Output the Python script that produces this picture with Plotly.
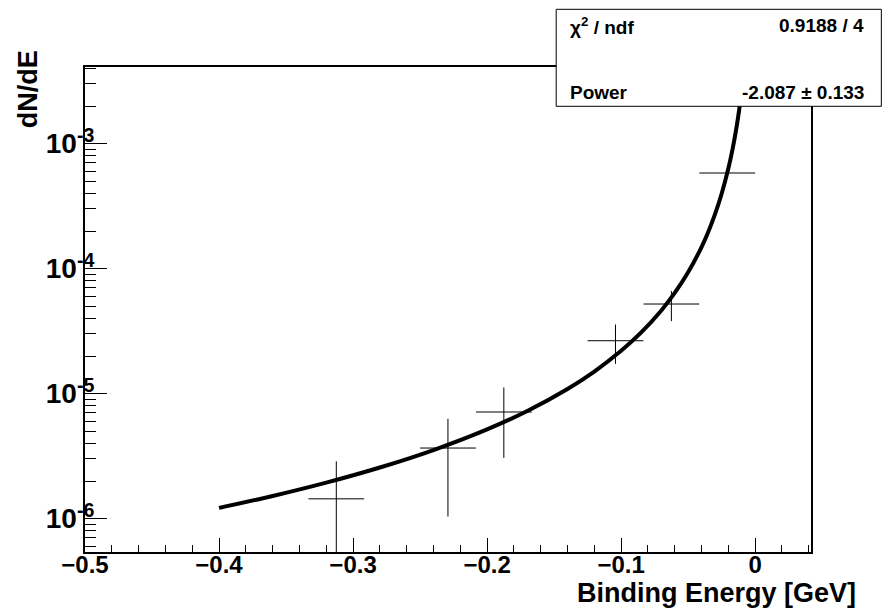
import plotly.graph_objects as go

# ---- data ----
bin_centers = [-0.3125, -0.2292, -0.1875, -0.1042, -0.0625, -0.0208]
bin_half_width = [0.0208, 0.0208, 0.0208, 0.0208, 0.0208, 0.0208]
counts = [1.44e-6, 3.67e-6, 7.13e-6, 2.65e-5, 5.21e-5, 5.82e-4]
count_err = [1.43e-6, 2.63e-6, 4.07e-6, 0.92e-5, 1.41e-5, 0.0]

fit_x = [-0.40, -0.36, -0.32, -0.28, -0.24, -0.20, -0.17, -0.14, -0.12, -0.10,
         -0.085, -0.07, -0.06, -0.05, -0.04, -0.035, -0.03, -0.025, -0.02,
         -0.017, -0.014, -0.012, -0.010, -0.008]
fit_y = [1.219e-6, 1.518e-6, 1.941e-6, 2.565e-6, 3.538e-6, 5.177e-6, 7.267e-6,
         1.090e-5, 1.503e-5, 2.200e-5, 3.087e-5, 4.630e-5, 6.388e-5, 9.342e-5,
         1.488e-4, 1.967e-4, 2.714e-4, 3.971e-4, 6.323e-4, 8.872e-4, 1.331e-3,
         1.836e-3, 2.688e-3, 4.284e-3]

y_tick_vals = [1e-6, 1e-5, 1e-4, 1e-3]
y_tick_exps = ["-6", "-5", "-4", "-3"]

stats_labels = ["χ<sup>2</sup> / ndf", "Power"]
stats_values = ["0.9188 / 4", "-2.087 ± 0.133"]

x_title = "Binding Energy [GeV]"
y_title = "dN/dE"

# ---- layout geometry (pixels) ----
W, H = 882, 612
L, R, T, B = 85, 810.7, 66.7, 551.7
FONT = "Liberation Sans, Arial, Helvetica, sans-serif"


def px(xp):
    return (xp - L) / (R - L)


def py(yp):
    return (B - yp) / (B - T)


y_tick_text = ["10<sup>%s</sup>" % e for e in y_tick_exps]

fig = go.Figure()

fig.add_trace(go.Scatter(
    x=bin_centers, y=counts, mode="markers",
    marker=dict(size=0.1, color="black"),
    error_x=dict(type="data", array=bin_half_width, width=0, thickness=1, color="black"),
    error_y=dict(type="data", array=count_err, width=0, thickness=1, color="black"),
    showlegend=False, hoverinfo="skip",
))

fig.add_trace(go.Scatter(
    x=fit_x, y=fit_y, mode="lines",
    line=dict(color="black", width=4, shape="spline"),
    showlegend=False, hoverinfo="skip",
))

minor_y = [m * 10.0 ** e for e in range(-7, -2) for m in range(2, 10)]

fig.update_layout(
    width=W, height=H,
    margin=dict(l=L, r=W - R, t=T, b=H - B, pad=0),
    paper_bgcolor="white", plot_bgcolor="white",
    font=dict(family=FONT, color="black", weight="bold"),
    xaxis=dict(
        range=[-0.5, 0.04167], showgrid=False, zeroline=False,
        showline=True, linecolor="black", linewidth=2, mirror=True,
        ticks="inside", ticklen=14, tickwidth=1, tickcolor="black",
        tickmode="linear", tick0=0, dtick=0.1,
        minor=dict(ticks="inside", ticklen=7, tickwidth=1, tickcolor="black",
                   dtick=0.02, tick0=0, showgrid=False),
        tickfont=dict(size=24, family=FONT, weight="bold"),
        ticklabelstandoff=-10,
    ),
    yaxis=dict(
        type="log", range=[-6.267, -2.387], showgrid=False, zeroline=False,
        showline=True, linecolor="black", linewidth=2, mirror=True,
        ticks="inside", ticklen=22, tickwidth=1, tickcolor="black",
        tickmode="array", tickvals=y_tick_vals, ticktext=y_tick_text,
        minor=dict(ticks="inside", ticklen=11, tickwidth=1, tickcolor="black",
                   tickmode="array", tickvals=minor_y, showgrid=False),
        tickfont=dict(size=28, family=FONT, weight="bold"),
        ticklabelstandoff=-17,
    ),
)

# stats box
fig.add_shape(type="rect", xref="paper", yref="paper",
              x0=px(556), x1=px(881), y0=py(106), y1=py(9),
              line=dict(color="black", width=1), fillcolor="white", layer="above")

rows_y = [25.5, 92.5]
for lab, val, yy in zip(stats_labels, stats_values, rows_y):
    fig.add_annotation(xref="paper", yref="paper", x=px(568), y=py(yy),
                       xanchor="left", yanchor="middle", text=lab, showarrow=False,
                       font=dict(size=19, family=FONT, weight="bold"))
    fig.add_annotation(xref="paper", yref="paper", x=px(866), y=py(yy),
                       xanchor="right", yanchor="middle", text=val, showarrow=False,
                       font=dict(size=19, family=FONT, weight="bold"))

# axis titles
fig.add_annotation(xref="paper", yref="paper", x=px(858), y=py(593),
                   xanchor="right", yanchor="middle", text=x_title, showarrow=False,
                   font=dict(size=27, family=FONT, weight="bold"))
fig.add_annotation(xref="paper", yref="paper", x=px(28), y=py(48),
                   xanchor="center", yanchor="top", text=y_title, showarrow=False,
                   textangle=-90,
                   font=dict(size=27, family=FONT, weight="bold"))

fig.write_html("out.html")
